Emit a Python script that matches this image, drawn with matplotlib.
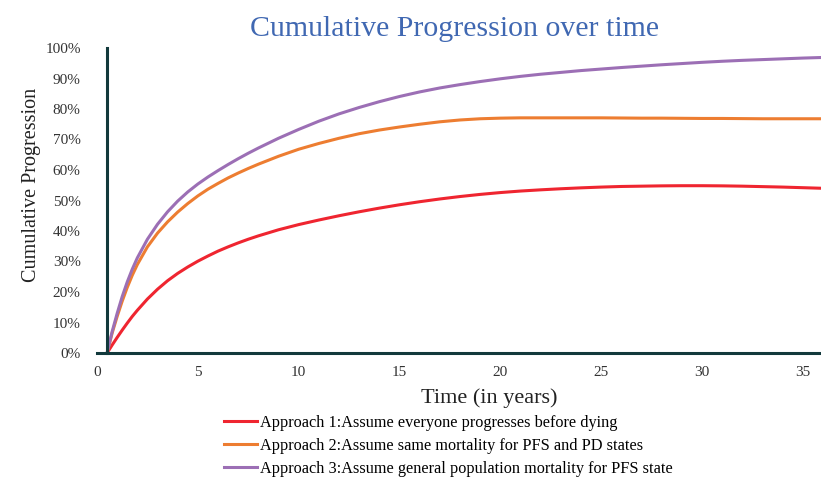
import matplotlib.pyplot as plt
from matplotlib.ticker import PercentFormatter, MultipleLocator

plt.rcParams['font.family'] = ['Liberation Serif', 'DejaVu Serif']

# years since start of model
years = [0.5, 0.75, 1, 1.25, 1.5, 1.75, 2, 2.5, 3, 3.5, 4, 4.5, 5, 5.5, 6, 6.5, 7, 7.5, 8,
         9, 10, 11, 12, 13, 14, 15, 16, 17, 18, 19, 20, 21, 22, 23, 24, 25, 26, 27, 28,
         29, 30, 31, 32, 33, 34, 35, 36]

# cumulative progression (%) for each approach
approach1 = [0, 2.6, 5.1, 7.5, 9.8, 12, 14, 17.7, 20.9, 23.7, 26.1, 28.2, 30.1, 31.8, 33.4,
             34.8, 36.1, 37.3, 38.4,
             40.4, 42.1, 43.6, 45, 46.3, 47.5, 48.6, 49.6, 50.5, 51.3, 52, 52.6, 53.1, 53.5,
             53.85, 54.15, 54.4, 54.6, 54.7, 54.8, 54.85, 54.85, 54.8, 54.7, 54.55, 54.4,
             54.2, 54.0]
approach2 = [0, 6.5, 12, 17, 21.5, 25.5, 29, 34.8, 39.3, 43, 46.2, 49, 51.5, 53.7, 55.6,
             57.4, 59, 60.5, 61.9,
             64.5, 66.8, 68.7, 70.4, 71.9, 73.1, 74.1, 75, 75.8, 76.4, 76.8, 77, 77.1, 77.1,
             77.1, 77.1, 77.1, 77.05, 77, 77, 76.95, 76.9, 76.9, 76.85, 76.8, 76.8, 76.8,
             76.8]
approach3 = [0, 7, 13, 18.5, 23.3, 27.5, 31.2, 37.3, 42.2, 46.3, 49.8, 52.8, 55.4, 57.7,
             59.8, 61.8, 63.7, 65.5, 67.2,
             70.4, 73.3, 76, 78.4, 80.5, 82.4, 84.1, 85.6, 86.9, 88, 89, 89.9, 90.7, 91.4,
             92, 92.6, 93.1, 93.6, 94.05, 94.5, 94.9, 95.3, 95.65, 95.95, 96.2, 96.45,
             96.7, 96.9]

labels = ['Approach 1:Assume everyone progresses before dying',
          'Approach 2:Assume same mortality for PFS and PD states',
          'Approach 3:Assume general population mortality for PFS state']
colors = ['#EF2530', '#ED7D31', '#9C6FB5']

fig = plt.figure(figsize=(8.21, 4.78), dpi=100)
ax = fig.add_axes([97 / 821, 1 - 353 / 478, 1 - 97 / 821, (353 - 48) / 478])

for ys, lab, c in zip([approach1, approach2, approach3], labels, colors):
    ax.plot(years, [v / 100 for v in ys], color=c, lw=2.2, label=lab)

ax.set_xlim(0, 35.9)
ax.set_ylim(0, 1)
ax.xaxis.set_major_locator(MultipleLocator(5))
ax.yaxis.set_major_locator(MultipleLocator(0.1))
ax.yaxis.set_major_formatter(PercentFormatter(1.0, decimals=0))

for s in ['top', 'right']:
    ax.spines[s].set_visible(False)
for s in ['left', 'bottom']:
    ax.spines[s].set_color('#12393C')
    ax.spines[s].set_linewidth(2.2)
ax.spines['left'].set_position(('data', 0.5))

ax.tick_params(axis='both', length=0, labelsize=11, colors='#333333')
ax.tick_params(axis='y', pad=19)
ax.tick_params(axis='x', pad=9)

ax.set_ylabel('Cumulative Progression', fontsize=14.5, color='#222222')
ax.yaxis.set_label_coords(-0.078, 0.55)
ax.set_xlabel('Time (in years)', fontsize=16, color='#222222')
ax.xaxis.set_label_coords(0.542, -0.115)

fig.text(0.554, 1 - 29 / 478, 'Cumulative Progression over time', fontsize=21.5,
         color='#4068B2', ha='center', va='center')

fig.legend(loc='upper left', bbox_to_anchor=(224 / 821, 1 - 415 / 478), frameon=False,
           fontsize=11.7, handlelength=2.0, handletextpad=0.2, labelspacing=0.42,
           borderpad=0, borderaxespad=0)

fig.savefig('out.png', dpi=100)
